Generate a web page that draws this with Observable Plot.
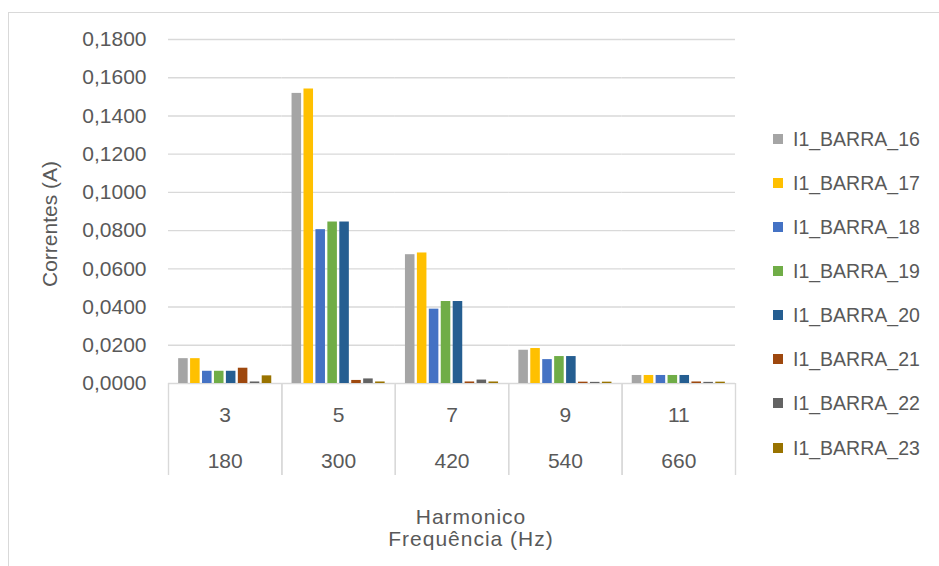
<!DOCTYPE html>
<html>
<head>
<meta charset="utf-8">
<script src="https://cdn.jsdelivr.net/npm/d3@7"></script>
<script src="https://cdn.jsdelivr.net/npm/@observablehq/plot@0.6"></script>
<style>
  html, body { margin: 0; padding: 0; background: #fff; }
  #wrap { position: relative; width: 939px; height: 566px; overflow: hidden; font-family: "Liberation Sans", Arial, sans-serif; color: #595959; }
  #frame { position: absolute; left: 8px; top: 12px; width: 1000px; height: 700px; border: 1px solid #d9d9d9; box-sizing: border-box; }
  #chart { position: absolute; left: 0; top: 0; }
  .ytitle { position: absolute; left: 50px; top: 224px; transform: translate(-50%, -50%) rotate(-90deg); font-size: 21px; white-space: nowrap; }
  .xtitle { position: absolute; left: 471px; transform: translateX(-50%); font-size: 21px; letter-spacing: 1px; line-height: 21px; text-align: center; white-space: nowrap; }
  .legend-item { position: absolute; left: 773px; height: 20px; display: flex; align-items: center; font-size: 19.5px; white-space: nowrap; }
  .legend-item span.sw { display: inline-block; width: 10px; height: 10px; margin-right: 10px; }
</style>
</head>
<body>
<div id="wrap">
  <div id="frame"></div>
  <div id="chart"></div>
  <div class="ytitle">Correntes (A)</div>
  <div class="xtitle" style="top: 506px;">Harmonico</div>
  <div class="xtitle" style="top: 528px;">Frequência (Hz)</div>
  <div id="legend"></div>
</div>
<script>
// Categories
const harmonicos = ["3", "5", "7", "9", "11"];
const frequencias = ["180", "300", "420", "540", "660"];
const series = ["I1_BARRA_16", "I1_BARRA_17", "I1_BARRA_18", "I1_BARRA_19", "I1_BARRA_20", "I1_BARRA_21", "I1_BARRA_22", "I1_BARRA_23"];
const colors = ["#A5A5A5", "#FFC000", "#4472C4", "#70AD47", "#255E91", "#9E480E", "#636363", "#997300"];

// Series values (A)
const I1_BARRA_16 = [0.0130, 0.1518, 0.0674, 0.0174, 0.0042];
const I1_BARRA_17 = [0.0130, 0.1541, 0.0683, 0.0183, 0.0042];
const I1_BARRA_18 = [0.0064, 0.0805, 0.0389, 0.0125, 0.0042];
const I1_BARRA_19 = [0.0064, 0.0845, 0.0429, 0.0141, 0.0042];
const I1_BARRA_20 = [0.0064, 0.0845, 0.0429, 0.0141, 0.0042];
const I1_BARRA_21 = [0.0080, 0.0016, 0.0008, 0.0007, 0.0008];
const I1_BARRA_22 = [0.0008, 0.0024, 0.0018, 0.0006, 0.0006];
const I1_BARRA_23 = [0.0040, 0.0008, 0.0008, 0.0007, 0.0007];

// Y tick values
const yTicks = [0, 0.02, 0.04, 0.06, 0.08, 0.10, 0.12, 0.14, 0.16, 0.18];

const valuesBySeries = [I1_BARRA_16, I1_BARRA_17, I1_BARRA_18, I1_BARRA_19, I1_BARRA_20, I1_BARRA_21, I1_BARRA_22, I1_BARRA_23];
const data = [];
series.forEach((s, si) => {
  harmonicos.forEach((h, hi) => {
    data.push({ harmonico: h, serie: s, valor: valuesBySeries[si][hi] });
  });
});

const W = 939, H = 566;
const mL = 168, mR = 204, mT = 39, mB = 183;
const step = (W - mL - mR) / harmonicos.length;
const sepColor = "#d9d9d9";

const plot = Plot.plot({
  width: W,
  height: H,
  marginTop: mT,
  marginBottom: mB,
  marginLeft: mL,
  marginRight: mR,
  style: { fontFamily: "'Liberation Sans', Arial, sans-serif", fontSize: "21px", color: "#595959", background: "transparent", overflow: "visible" },
  fx: { domain: harmonicos, padding: 0, label: null, round: false },
  x: { domain: series, paddingInner: 0.2, paddingOuter: 0.85, round: false, axis: null },
  y: { domain: [0, 0.18] },
  color: { domain: series, range: colors },
  marks: [
    Plot.gridY(yTicks, { stroke: sepColor, strokeOpacity: 1, strokeWidth: 1.4 }),
    Plot.axisY(yTicks, {
      tickSize: 0, tickPadding: 22, label: null,
      tickFormat: d => d.toFixed(4).replace(".", ",")
    }),
    Plot.barY(data, { fx: "harmonico", x: "serie", y: "valor", fill: "serie" }),
    Plot.axisFx({ anchor: "bottom", tickSize: 92, dx: -step / 2, text: null, stroke: sepColor, strokeWidth: 1.4, label: null }),
    Plot.axisFx(["11"], { anchor: "bottom", tickSize: 92, dx: step / 2, text: null, stroke: sepColor, strokeWidth: 1.4, label: null }),
    Plot.axisFx({ anchor: "bottom", tickSize: 0, tickPadding: 24, label: null, tickFormat: h => h }),
    Plot.axisFx({ anchor: "bottom", tickSize: 0, tickPadding: 70, label: null, tickFormat: h => frequencias[harmonicos.indexOf(h)] })
  ]
});
document.getElementById("chart").appendChild(plot);

// Legend
const legend = document.getElementById("legend");
const legendY = [139, 183, 227, 271, 315, 359, 403, 448];
series.forEach((s, i) => {
  const item = document.createElement("div");
  item.className = "legend-item";
  item.style.top = (legendY[i] - 10) + "px";
  const sw = document.createElement("span");
  sw.className = "sw";
  sw.style.background = colors[i];
  item.appendChild(sw);
  item.appendChild(document.createTextNode(s));
  legend.appendChild(item);
});
</script>
</body>
</html>
